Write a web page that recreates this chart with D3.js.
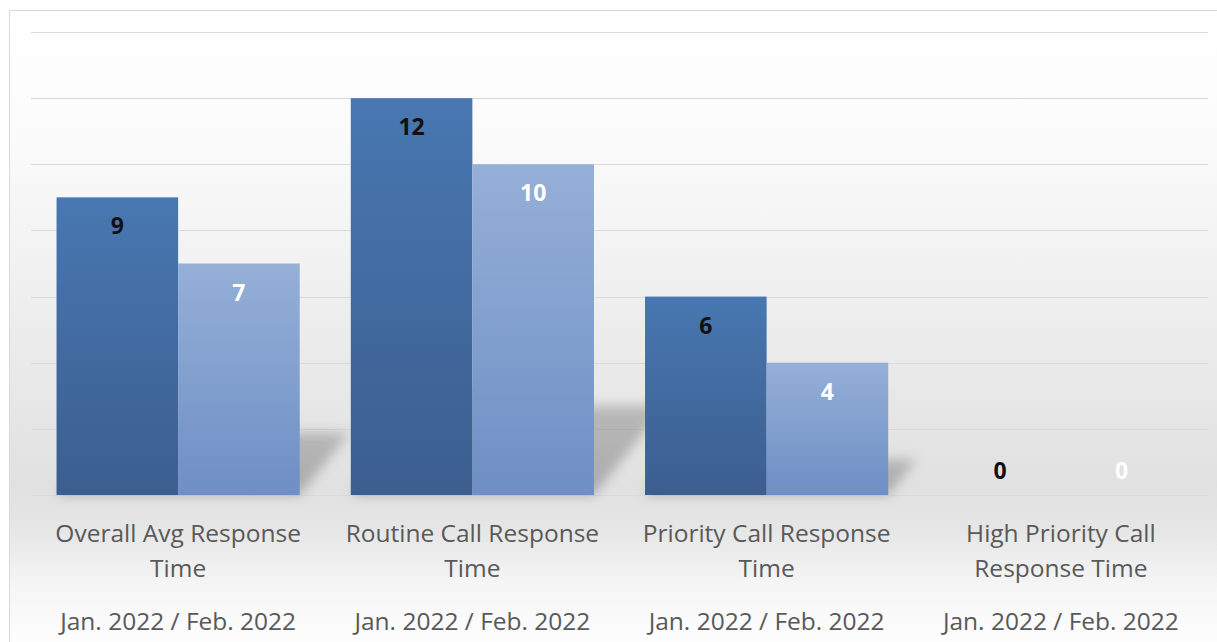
<!DOCTYPE html>
<html><head><meta charset="utf-8">
<script src="https://cdn.jsdelivr.net/npm/d3@7"></script>
<style>html,body{margin:0;padding:0;background:#fff;}svg{display:block;}</style>
</head><body>
<svg id="chart" width="1217" height="642"></svg>
<script>
// ---- data ----
const categoryLines = [
  ["Overall Avg Response", "Time"],
  ["Routine Call Response", "Time"],
  ["Priority Call Response", "Time"],
  ["High Priority Call", "Response Time"]
];
const periodLabel = "Jan. 2022 / Feb. 2022";
const seriesNames = ["Jan. 2022", "Feb. 2022"];
const janValues = [9, 12, 6, 0];
const febValues = [7, 10, 4, 0];
const yTicks = [0, 2, 4, 6, 8, 10, 12, 14];

// ---- layout ----
const svg = d3.select("#chart");
const W = 1217, H = 642;
const plot = {left: 31, right: 1208, top: 32, bottom: 495};
const font = "'Open Sans', 'DejaVu Sans', sans-serif";

const defs = svg.append("defs");
const bg = defs.append("linearGradient").attr("id", "bg").attr("x1", 0).attr("y1", 0).attr("x2", 0).attr("y2", 1);
[[0, "#ffffff"], [0.2, "#fbfbfb"], [0.5, "#ececec"], [0.74, "#e1e1e1"], [0.81, "#e6e6e6"], [0.9, "#f6f6f6"], [1, "#ffffff"]]
  .forEach(([o, c]) => bg.append("stop").attr("offset", o).attr("stop-color", c));
const g1 = defs.append("linearGradient").attr("id", "s0").attr("x1", 0).attr("y1", 0).attr("x2", 0).attr("y2", 1);
g1.append("stop").attr("offset", 0).attr("stop-color", "#4877b1");
g1.append("stop").attr("offset", 1).attr("stop-color", "#3c5e8f");
const g2 = defs.append("linearGradient").attr("id", "s1").attr("x1", 0).attr("y1", 0).attr("x2", 0).attr("y2", 1);
g2.append("stop").attr("offset", 0).attr("stop-color", "#95afd7");
g2.append("stop").attr("offset", 1).attr("stop-color", "#6e8fc5");
const blur = defs.append("filter").attr("id", "blur").attr("x", "-50%").attr("y", "-50%").attr("width", "200%").attr("height", "200%");
blur.append("feGaussianBlur").attr("stdDeviation", 6);
const sg = defs.append("linearGradient").attr("id", "sh").attr("x1", 0).attr("y1", 1).attr("x2", 0).attr("y2", 0);
sg.append("stop").attr("offset", 0).attr("stop-color", "#000").attr("stop-opacity", 0.24);
sg.append("stop").attr("offset", 1).attr("stop-color", "#000").attr("stop-opacity", 0.2);

// frame
svg.append("rect").attr("x", 9.5).attr("y", 10.5).attr("width", W).attr("height", H)
  .attr("fill", "url(#bg)").attr("stroke", "#d9d9d9").attr("stroke-width", 1);

// scales
const x = d3.scaleBand().domain(d3.range(categoryLines.length)).range([plot.left, plot.right]).padding(0);
const xs = d3.scaleBand().domain([0, 1]).range([0, x.bandwidth()]).paddingInner(0).paddingOuter(0.21);
const y = d3.scaleLinear().domain([0, 14]).range([plot.bottom, plot.top]);

// gridlines
svg.append("g").selectAll("line").data(yTicks).join("line")
  .attr("x1", plot.left).attr("x2", plot.right)
  .attr("y1", d => Math.round(y(d)) + 0.5).attr("y2", d => Math.round(y(d)) + 0.5)
  .attr("stroke", "#dadada").attr("stroke-width", 1);

const data = [];
categoryLines.forEach((c, i) => {
  data.push({cat: i, s: 0, v: janValues[i]});
  data.push({cat: i, s: 1, v: febValues[i]});
});

// shadows
svg.append("g").attr("filter", "url(#blur)").selectAll("path").data(data.filter(d => d.v > 0)).join("path")
  .attr("d", d => {
    const x0 = x(d.cat) + xs(d.s), x1 = x0 + xs.bandwidth();
    const h = y(0) - y(d.v);
    const hs = h * 0.27, dx = hs * 0.8;
    const b = y(0);
    return `M${x0},${b}L${x1},${b}L${x1 + dx},${b - hs}L${x0 + dx},${b - hs}Z`;
  })
  .attr("fill", "url(#sh)");

// bars
svg.append("g").selectAll("rect").data(data.filter(d => d.v > 0)).join("rect")
  .attr("x", d => x(d.cat) + xs(d.s))
  .attr("width", xs.bandwidth())
  .attr("y", d => y(d.v))
  .attr("height", d => y(0) - y(d.v))
  .attr("fill", d => `url(#s${d.s})`);

// value labels
svg.append("g").selectAll("text").data(data).join("text")
  .attr("x", d => x(d.cat) + xs(d.s) + xs.bandwidth() / 2)
  .attr("y", d => d.v > 0 ? y(d.v) + 37 : y(0) - 16)
  .attr("text-anchor", "middle")
  .attr("font-family", font).attr("font-weight", 700).attr("font-size", "23px")
  .attr("fill", d => d.s === 0 ? "#111111" : "#ffffff")
  .text(d => d.v);

// category labels
const xl = svg.append("g").attr("font-family", font).attr("font-size", "24.5px").attr("fill", "#595959").attr("text-anchor", "middle");
categoryLines.forEach((lines, i) => {
  const cx = x(i) + x.bandwidth() / 2;
  lines.forEach((ln, j) => {
    xl.append("text").attr("x", cx).attr("y", 542 + j * 35).text(ln);
  });
  xl.append("text").attr("x", cx).attr("y", 630).text(periodLabel);
});
</script>
</body></html>
